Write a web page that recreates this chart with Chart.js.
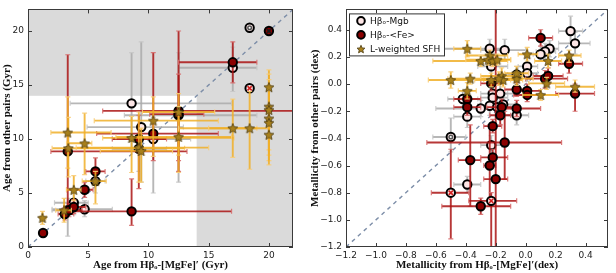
<!DOCTYPE html>
<html>
<head>
<meta charset="utf-8">
<script src="https://cdn.jsdelivr.net/npm/chart.js@4.4.0/dist/chart.umd.min.js"></script>
<style>
  html, body { margin: 0; padding: 0; background: #fff; }
  #wrap { position: relative; width: 616px; height: 273px; }
  .panel { position: absolute; top: 0; width: 308px; height: 273px; }
</style>
</head>
<body>
<div id="wrap">
  <div class="panel" style="left:0"><canvas id="ageChart" width="308" height="273"></canvas></div>
  <div class="panel" style="left:308px"><canvas id="metChart" width="308" height="273"></canvas></div>
</div>
<script>
// ---------- left panel: ages (Gyr) ----------
const ageTicks = [0, 5, 10, 15, 20];
const ageDiag = [0, 22];

// Hbeta_o - Mgb
const ageMgbX = [8.6, 9.4, 10.4, 12.5, 17.0, 18.4, 5.6, 3.8, 4.7, 9.2, 3.3, 18.4];
const ageMgbY = [13.3, 11.1, 10.0, 12.2, 16.6, 20.3, 6.1, 4.1, 3.5, 9.1, 3.4, 14.7];
const ageMgbXErr = [[3.5, 16.9], [4.9, 12.9], [7.0, 13.5], [8.0, 19.0], [12.5, 19.0], null, [4.8, 6.4], [2.2, 5.0], [2.0, 7.0], [7.0, 11.5], [2.0, 4.5], null];
const ageMgbYErr = [[9.0, 18.0], [6.0, 19.0], [5.0, 12.0], [6.0, 18.0], [14.4, 18.5], null, [5.0, 7.2], [3.0, 5.0], [2.8, 4.3], [7.0, 11.0], [1.0, 4.5], null];

// Hbeta_o - <Fe>
const ageFeX = [1.25, 3.05, 3.4, 3.8, 4.7, 5.6, 3.3, 8.6, 9.2, 10.4, 12.5, 12.5, 17.0, 20.0];
const ageFeY = [1.3, 3.05, 3.4, 3.7, 5.3, 7.0, 8.85, 3.3, 10.0, 10.5, 12.6, 12.3, 17.1, 20.0];
const ageFeXErr = [[1.0, 1.5], [2.5, 3.8], [2.8, 4.5], [3.0, 4.8], [3.2, 5.4], [4.8, 6.4], [1.9, 13.2], [3.9, 16.9], [7.0, 11.5], [5.7, 15.8], [6.2, 22.0], [10.1, 14.6], [12.5, 19.0], null];
const ageFeYErr = [[1.0, 1.6], [2.5, 3.6], [2.8, 4.0], [3.1, 4.4], [4.6, 6.0], [5.95, 8.25], [3.0, 17.8], [2.0, 6.3], [5.4, 12.2], [8.0, 18.0], [7.0, 20.0], [8.0, 16.0], [15.2, 19.0], null];

// light-weighted SFH
const ageSfhX = [1.2, 3.0, 3.3, 3.35, 3.8, 4.7, 5.6, 8.6, 9.2, 9.4, 10.4, 12.5, 12.5, 17.0, 18.4, 20.0, 20.0, 20.0, 20.0, 20.0, 20.0];
const ageSfhY = [2.7, 3.4, 10.6, 9.15, 5.3, 9.6, 6.1, 10.1, 9.2, 8.9, 11.7, 12.5, 10.2, 11.0, 11.0, 14.8, 13.0, 12.7, 11.9, 11.5, 10.4];
const ageSfhXErr = [[1.0, 1.5], [2.3, 3.6], [1.9, 6.9], [2.0, 13.0], [3.2, 4.4], [3.2, 5.3], [4.5, 6.5], [6.2, 17.1], [4.0, 15.0], [6.0, 12.0], [5.5, 15.8], [9.5, 15.5], [7.3, 16.9], [12.5, 19.0], [15.0, 20.0], null, null, null, null, null, null];
const ageSfhYErr = [[2.1, 3.3], [2.3, 4.5], [7.3, 13.9], [6.5, 12.0], [4.3, 6.6], [6.7, 12.4], [4.0, 7.0], [6.9, 12.1], [6.0, 12.5], [6.0, 11.0], [8.4, 13.9], [8.5, 14.2], [6.9, 13.0], [8.3, 13.7], [7.2, 14.4], [11.0, 16.4], [10.0, 16.0], [9.0, 15.5], [8.5, 15.0], [8.0, 14.5], [7.6, 13.0]];

// flagged points
const ageCrossX = [18.4], ageCrossY = [14.7];
const ageCrossDarkX = [20.0], ageCrossDarkY = [20.0];
const ageDotX = [18.4], ageDotY = [20.3];

// ---------- right panel: metallicities (dex) ----------
const metTicks = [-1.2, -1.0, -0.8, -0.6, -0.4, -0.2, 0.0, 0.2, 0.4];
const metDiag = [-1.2, 0.55];

const metMgbX = [0.30, 0.33, 0.16, 0.13, 0.10, 0.01, 0.01, -0.06, -0.14, -0.24, -0.23, -0.22, -0.22, -0.17, -0.42, -0.30, -0.24, -0.19, -0.15, -0.39, -0.06, -0.23, -0.39, -0.50];
const metMgbY = [0.39, 0.30, 0.26, 0.24, 0.22, 0.13, 0.08, 0.07, 0.25, 0.26, 0.13, -0.07, -0.10, -0.07, -0.11, -0.18, -0.16, -0.17, -0.15, -0.24, -0.23, -0.45, -0.74, -0.39];
const metMgbXErr = [[0.22, 0.38], [0.22, 0.43], [0.10, 0.22], [0.07, 0.20], [0.05, 0.16], [-0.05, 0.08], [-0.06, 0.08], [-0.12, 0.0], [-0.30, 0.0], [-0.56, -0.12], [-0.32, -0.12], [-0.30, -0.12], [-0.30, -0.12], [-0.25, -0.08], [-0.52, -0.32], [-0.60, -0.20], [-0.32, -0.15], [-0.27, -0.10], [-0.22, -0.07], [-0.48, -0.30], [-0.14, 0.02], [-0.30, -0.16], [-0.48, -0.30], [-0.62, -0.40]];
const metMgbYErr = [[0.30, 0.50], [0.22, 0.38], [0.20, 0.32], [0.18, 0.30], [0.17, 0.28], [0.08, 0.19], [0.02, 0.14], [0.02, 0.13], [0.18, 0.33], [0.20, 0.33], [0.06, 0.22], [-0.13, 0.0], [-0.16, -0.04], [-0.13, 0.0], [-0.17, -0.05], [-0.24, -0.12], [-0.23, -0.09], [-0.24, -0.10], [-0.22, -0.08], [-0.32, -0.16], [-0.30, -0.16], [-0.52, -0.38], [-0.80, -0.68], [-0.50, -0.25]];

const metFeX = [0.10, 0.29, 0.33, 0.13, 0.15, 0.01, 0.01, -0.06, -0.06, -0.16, -0.17, -0.23, -0.39, -0.39, -0.22, -0.14, -0.22, -0.37, -0.24, -0.20, -0.30, -0.50, -0.23];
const metFeY = [0.34, 0.15, -0.07, 0.04, 0.06, -0.05, -0.08, -0.04, -0.18, -0.17, -0.23, 0.005, -0.11, -0.17, -0.31, -0.43, -0.54, -0.56, -0.60, -0.70, -0.90, -0.80, -0.86];
const metFeXErr = [[0.02, 0.18], [0.22, 0.38], [0.20, 0.46], [0.0, 0.28], [0.05, 0.25], [-0.08, 0.10], [-0.08, 0.10], [-0.14, 0.02], [-0.14, 0.10], [-0.26, -0.06], [-0.24, -0.10], [-0.30, -0.15], [-0.48, -0.30], [-0.48, -0.30], [-0.28, -0.16], [-0.66, 0.24], [-0.30, -0.12], [-0.45, -0.30], [-0.28, -0.20], [-0.28, -0.12], [-0.56, -0.10], [-0.63, -0.38], [-0.38, -0.06]];
const metFeYErr = [[0.28, 0.40], [0.08, 0.22], [-0.20, 0.0], [-0.03, 0.10], [0.0, 0.12], [-0.10, 0.0], [-0.13, -0.03], [-0.09, 0.01], [-0.24, -0.12], [-0.23, -0.11], [-0.30, -0.16], [-0.05, 0.06], [-0.17, -0.05], [-0.23, -0.11], [-0.36, -0.26], [-0.70, -0.20], [-0.58, -0.48], [-0.90, -0.30], [-0.90, -0.30], [-1.25, 0.60], [-0.96, -0.84], [-1.14, -0.48], [-1.25, -0.80]];

const metSfhX = [-0.39, -0.24, -0.30, -0.25, -0.22, -0.19, 0.01, 0.15, 0.29, -0.50, -0.37, -0.39, -0.16, -0.15, -0.18, -0.23, -0.06, -0.06, 0.14, 0.10, 0.33];
const metSfhY = [0.26, 0.21, 0.17, 0.18, 0.17, 0.18, 0.22, 0.17, 0.21, 0.03, 0.04, -0.05, 0.06, 0.03, 0.04, 0.03, 0.04, 0.08, 0.005, -0.08, -0.02];
const metSfhXErr = [[-0.48, -0.30], [-0.40, -0.12], [-0.62, -0.18], [-0.40, -0.10], [-0.32, -0.12], [-0.30, -0.10], [-0.05, 0.08], [0.06, 0.24], [0.22, 0.37], [-0.65, -0.38], [-0.52, -0.25], [-0.45, -0.33], [-0.30, -0.02], [-0.28, -0.02], [-0.30, -0.06], [-0.34, -0.10], [-0.16, 0.05], [-0.14, 0.02], [0.02, 0.26], [-0.02, 0.22], [0.20, 0.46]];
const metSfhYErr = [[0.20, 0.32], [0.16, 0.25], [0.13, 0.21], [0.14, 0.22], [0.13, 0.20], [0.14, 0.22], [0.17, 0.27], [0.12, 0.22], [0.16, 0.25], [-0.03, 0.09], [0.0, 0.08], [-0.11, 0.01], [0.0, 0.12], [-0.02, 0.08], [-0.01, 0.09], [-0.02, 0.08], [-0.01, 0.09], [0.03, 0.13], [-0.04, 0.05], [-0.12, -0.04], [-0.06, 0.03]];

const metWhiteFeX = [-0.50, -0.23];   // <Fe> points drawn with open face
const metCrossX = [-0.50, -0.23], metCrossY = [-0.80, -0.86];
const metDotX = [-0.50], metDotY = [-0.39];

const seriesLabels = ['H\u03b2\u2092-Mgb', 'H\u03b2\u2092-<Fe>', 'L-weighted SFH'];

// ---------- helpers ----------
function toPoints(xs, ys) {
  return xs.map((x, i) => ({x: x, y: ys[i]}));
}

function fmtTick(v, digits) {
  return v.toFixed(digits).replace('-', '\u2212');
}

function makeStar(r, fill, stroke) {
  const size = Math.ceil(r * 2 + 3);
  const c = document.createElement('canvas');
  c.width = size; c.height = size;
  const g = c.getContext('2d');
  g.beginPath();
  for (let k = 0; k < 10; k++) {
    const ang = -Math.PI / 2 + k * Math.PI / 5;
    const rr = k % 2 === 0 ? r : r * 0.45;
    g.lineTo(size / 2 + rr * Math.cos(ang), size / 2 + 0.5 + rr * Math.sin(ang));
  }
  g.closePath();
  g.fillStyle = fill; g.fill();
  g.lineWidth = 0.8; g.strokeStyle = stroke; g.stroke();
  return c;
}

const starImg = makeStar(5.2, '#a8801c', '#4a3a10');
const starLegendImg = makeStar(4.2, '#a8801c', '#4a3a10');

const WHITE_FACE = '#fde6e6';
const RED_FACE = '#8b0000';

// error bars drawn just before each dataset so later series sit on top
const errorBarPlugin = {
  id: 'errorBars',
  beforeDatasetDraw(chart, args) {
    const ds = chart.data.datasets[args.index];
    if (!ds.xErr) return;
    const {ctx, chartArea} = chart;
    const xs = chart.scales.x, ys = chart.scales.y;
    ctx.save();
    ctx.beginPath();
    ctx.rect(chartArea.left, chartArea.top, chartArea.width, chartArea.height);
    ctx.clip();
    ds.data.forEach((p, i) => {
      const px = xs.getPixelForValue(p.x);
      const py = ys.getPixelForValue(p.y);
      const xe = ds.xErr[i], ye = ds.yErr[i];
      ctx.lineWidth = 1.9;
      ctx.strokeStyle = ds.errColor;
      ctx.beginPath();
      if (xe) { ctx.moveTo(xs.getPixelForValue(xe[0]), py); ctx.lineTo(xs.getPixelForValue(xe[1]), py); }
      if (ye) { ctx.moveTo(px, ys.getPixelForValue(ye[0])); ctx.lineTo(px, ys.getPixelForValue(ye[1])); }
      ctx.stroke();
      ctx.lineWidth = 1.2;
      ctx.strokeStyle = ds.capColor;
      ctx.beginPath();
      if (xe) {
        xe.forEach(v => { const cx = xs.getPixelForValue(v); ctx.moveTo(cx, py - 2.5); ctx.lineTo(cx, py + 2.5); });
      }
      if (ye) {
        ye.forEach(v => { const cy = ys.getPixelForValue(v); ctx.moveTo(px - 2.5, cy); ctx.lineTo(px + 2.5, cy); });
      }
      ctx.stroke();
    });
    ctx.restore();
  }
};

// grey background outside the reliable region (left panel only)
const shadePlugin = {
  id: 'shade',
  beforeDatasetsDraw(chart, args, opts) {
    if (!opts.limit) return;
    const {ctx, chartArea} = chart;
    const xs = chart.scales.x, ys = chart.scales.y;
    ctx.save();
    ctx.fillStyle = '#dadada';
    ctx.fillRect(chartArea.left, chartArea.top, chartArea.width, chartArea.height);
    const x1 = xs.getPixelForValue(opts.limit), y1 = ys.getPixelForValue(opts.limit);
    ctx.fillStyle = '#ffffff';
    ctx.fillRect(chartArea.left, y1, x1 - chartArea.left, chartArea.bottom - y1);
    ctx.restore();
  }
};

// frame with inward ticks on all four sides
const framePlugin = {
  id: 'frame',
  afterDraw(chart) {
    const {ctx, chartArea: a} = chart;
    const xs = chart.scales.x, ys = chart.scales.y;
    ctx.save();
    ctx.strokeStyle = '#3a3a3a';
    ctx.lineWidth = 1;
    ctx.beginPath();
    xs.ticks.forEach(t => {
      const px = Math.round(xs.getPixelForValue(t.value)) + 0.5;
      ctx.moveTo(px, a.bottom); ctx.lineTo(px, a.bottom - 4);
      ctx.moveTo(px, a.top); ctx.lineTo(px, a.top + 4);
    });
    ys.ticks.forEach(t => {
      const py = Math.round(ys.getPixelForValue(t.value)) + 0.5;
      ctx.moveTo(a.left, py); ctx.lineTo(a.left + 4, py);
      ctx.moveTo(a.right, py); ctx.lineTo(a.right - 4, py);
    });
    ctx.stroke();
    ctx.strokeRect(Math.round(a.left) + 0.5, Math.round(a.top) + 0.5, Math.round(a.width) - 1, Math.round(a.height) - 1);
    ctx.restore();
  }
};

// boxed legend in the upper-left corner (right panel)
const boxLegendPlugin = {
  id: 'boxLegend',
  afterDraw(chart, args, opts) {
    if (!opts.show) return;
    const {ctx, chartArea: a} = chart;
    const x0 = a.left + 3, y0 = a.top + 4, w = 95, h = 42;
    ctx.save();
    ctx.fillStyle = '#fff';
    ctx.fillRect(x0, y0, w, h);
    ctx.strokeStyle = '#333';
    ctx.lineWidth = 1;
    ctx.strokeRect(x0 + 0.5, y0 + 0.5, w, h);
    ctx.font = '9px "DejaVu Sans"';
    ctx.textBaseline = 'middle';
    const faces = [WHITE_FACE, RED_FACE, null];
    seriesLabels.forEach((label, i) => {
      const cy = y0 + 7.5 + i * 14;
      const mx = x0 + 12;
      if (faces[i]) {
        ctx.beginPath();
        ctx.arc(mx, cy, 3.8, 0, Math.PI * 2);
        ctx.fillStyle = faces[i]; ctx.fill();
        ctx.lineWidth = 2; ctx.strokeStyle = '#000'; ctx.stroke();
      } else {
        ctx.drawImage(starLegendImg, mx - starLegendImg.width / 2, cy - starLegendImg.height / 2);
      }
      ctx.fillStyle = '#111';
      ctx.fillText(label, x0 + 21, cy + 0.5);
    });
    ctx.restore();
  }
};

function axis(pos, min, max, ticks, digits, title, fitSize) {
  return {
    type: 'linear',
    position: pos,
    min: min,
    max: max,
    grid: {display: false, drawTicks: false},
    border: {display: false},
    afterBuildTicks: s => { s.ticks = ticks.map(v => ({value: v})); },
    afterFit: s => { if (pos === 'bottom') s.height = fitSize; else s.width = fitSize; },
    ticks: {
      color: '#222',
      font: {family: 'DejaVu Sans', size: 9},
      padding: pos === 'bottom' ? 3 : 4,
      maxRotation: 0,
      autoSkip: false,
      callback: v => fmtTick(v, digits)
    },
    title: {
      display: true,
      text: title,
      color: '#111',
      font: {family: 'Liberation Serif', size: 11, weight: 'bold'},
      padding: pos === 'bottom' ? {top: 0, bottom: 1} : {top: 1, bottom: 0}
    }
  };
}

function buildDatasets(d) {
  return [
    {
      type: 'line', label: 'diag', data: toPoints(d.diag, d.diag),
      borderColor: '#7d8ea8', borderWidth: 1.4, borderDash: [4, 4],
      pointRadius: 0, order: 9
    },
    {
      label: seriesLabels[0], data: toPoints(d.mgbX, d.mgbY), xErr: d.mgbXErr, yErr: d.mgbYErr,
      errColor: 'rgba(170,170,170,0.85)', capColor: 'rgba(200,200,200,0.9)',
      backgroundColor: WHITE_FACE, borderColor: '#000', borderWidth: 2, pointRadius: 4.2, order: 8
    },
    {
      label: seriesLabels[1], data: toPoints(d.feX, d.feY), xErr: d.feXErr, yErr: d.feYErr,
      errColor: 'rgba(170,20,20,0.85)', capColor: 'rgba(215,110,110,0.9)',
      backgroundColor: ctx => (d.whiteFeX && ctx.raw && d.whiteFeX.includes(ctx.raw.x) && ctx.raw.y < -0.75) ? WHITE_FACE : RED_FACE,
      borderColor: '#000', borderWidth: 2, pointRadius: 4.2, order: 7
    },
    {
      label: seriesLabels[2], data: toPoints(d.sfhX, d.sfhY), xErr: d.sfhXErr, yErr: d.sfhYErr,
      errColor: 'rgba(240,175,40,0.85)', capColor: 'rgba(248,205,120,0.9)',
      pointStyle: starImg, pointRadius: 5, order: 6
    },
    {
      label: 'cross', data: toPoints(d.crossX, d.crossY), pointStyle: 'crossRot',
      borderColor: '#d42020', borderWidth: 1.6, pointRadius: 3, order: 5
    },
    {
      label: 'crossDark', data: toPoints(d.crossDarkX, d.crossDarkY), pointStyle: 'crossRot',
      borderColor: '#1a1a1a', borderWidth: 1.6, pointRadius: 3, order: 4
    },
    {
      label: 'dot', data: toPoints(d.dotX, d.dotY), pointStyle: 'circle',
      backgroundColor: '#ffffff', borderColor: '#555', borderWidth: 1.5, pointRadius: 1.8, order: 3
    }
  ];
}

function drawPanel(canvasId, d, scales, padding, shadeLimit, showLegend) {
  return new Chart(document.getElementById(canvasId), {
    type: 'scatter',
    data: {datasets: buildDatasets(d)},
    plugins: [shadePlugin, errorBarPlugin, framePlugin, boxLegendPlugin],
    options: {
      responsive: false,
      animation: false,
      layout: {padding: padding},
      scales: scales,
      elements: {point: {hoverRadius: 4}},
      plugins: {
        legend: {display: false},
        tooltip: {enabled: false},
        shade: {limit: shadeLimit},
        boxLegend: {show: showLegend}
      }
    }
  });
}

drawPanel('ageChart', {
  diag: ageDiag,
  mgbX: ageMgbX, mgbY: ageMgbY, mgbXErr: ageMgbXErr, mgbYErr: ageMgbYErr,
  feX: ageFeX, feY: ageFeY, feXErr: ageFeXErr, feYErr: ageFeYErr,
  sfhX: ageSfhX, sfhY: ageSfhY, sfhXErr: ageSfhXErr, sfhYErr: ageSfhYErr,
  crossX: ageCrossX, crossY: ageCrossY, crossDarkX: ageCrossDarkX, crossDarkY: ageCrossDarkY,
  dotX: ageDotX, dotY: ageDotY
}, {
  x: axis('bottom', 0, 22, ageTicks, 0, 'Age from H\u03b2\u2092-[MgFe]\u2032 (Gyr)', 26),
  y: axis('left', 0, 22, ageTicks, 0, 'Age from other pairs (Gyr)', 28)
}, {top: 7, right: 15, left: 0, bottom: 0}, 14, false);

drawPanel('metChart', {
  diag: metDiag,
  mgbX: metMgbX, mgbY: metMgbY, mgbXErr: metMgbXErr, mgbYErr: metMgbYErr,
  feX: metFeX, feY: metFeY, feXErr: metFeXErr, feYErr: metFeYErr, whiteFeX: metWhiteFeX,
  sfhX: metSfhX, sfhY: metSfhY, sfhXErr: metSfhXErr, sfhYErr: metSfhYErr,
  crossX: metCrossX, crossY: metCrossY, crossDarkX: [], crossDarkY: [],
  dotX: metDotX, dotY: metDotY
}, {
  x: axis('bottom', -1.2, 0.55, metTicks, 1, 'Metallicity from H\u03b2\u2092-[MgFe]\u2032(dex)', 26),
  y: axis('left', -1.2, 0.55, metTicks, 1, 'Metallicity from other pairs (dex)', 38)
}, {top: 7, right: 8, left: 0, bottom: 0}, null, true);
</script>
</body>
</html>
